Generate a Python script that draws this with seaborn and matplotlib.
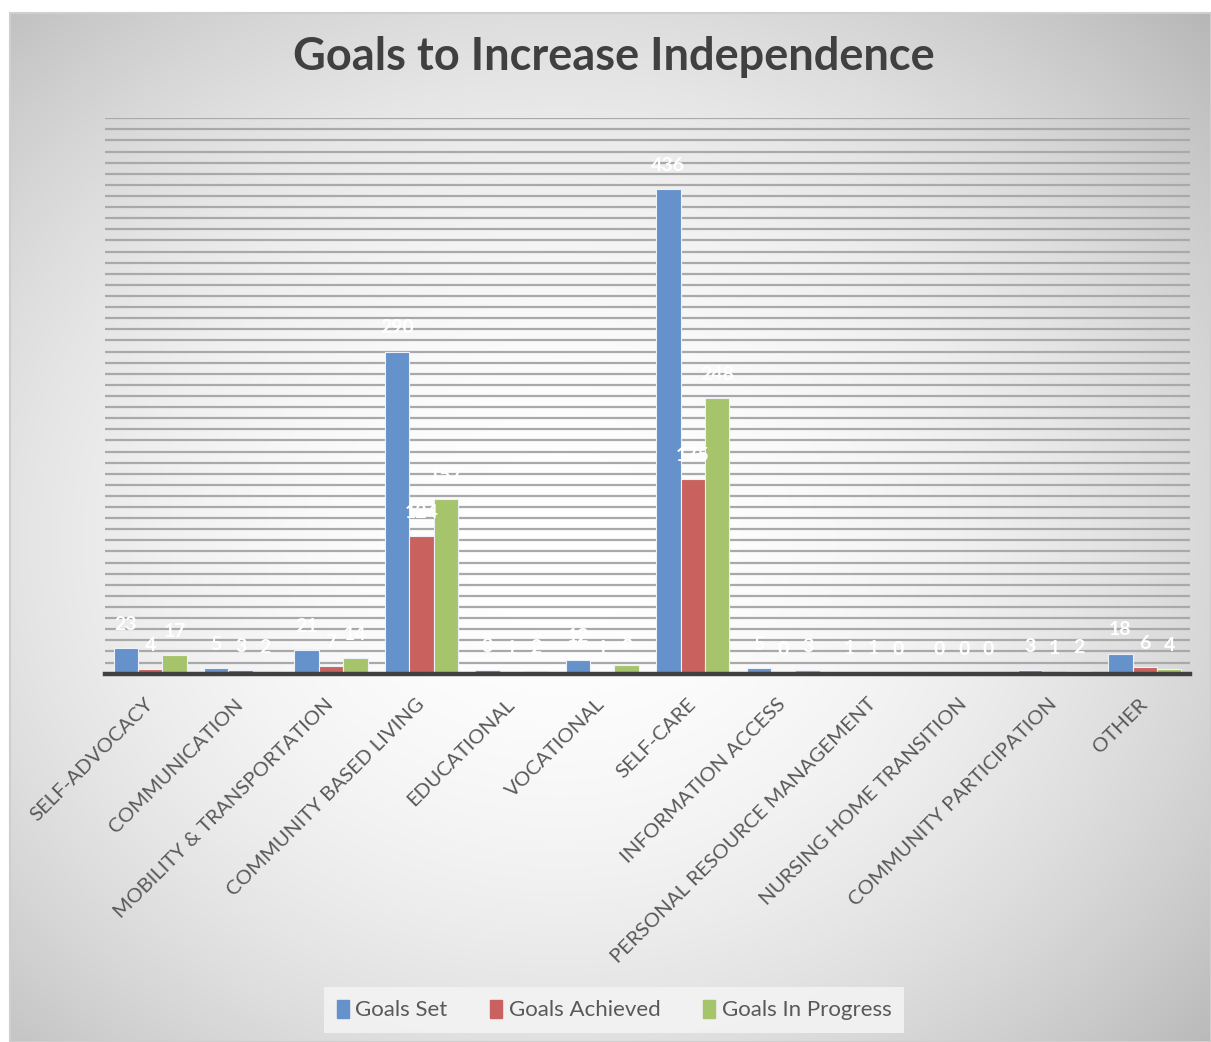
import numpy as np
import pandas as pd
import seaborn as sns
import matplotlib.pyplot as plt

categories = ['SELF-ADVOCACY', 'COMMUNICATION', 'MOBILITY & TRANSPORTATION',
              'COMMUNITY BASED LIVING', 'EDUCATIONAL', 'VOCATIONAL', 'SELF-CARE',
              'INFORMATION ACCESS', 'PERSONAL RESOURCE MANAGEMENT',
              'NURSING HOME TRANSITION', 'COMMUNITY PARTICIPATION', 'OTHER']
goals_set = [23, 5, 21, 290, 3, 12, 436, 5, 1, 0, 3, 18]
goals_achieved = [4, 3, 7, 124, 1, 1, 175, 0, 1, 0, 1, 6]
goals_in_progress = [17, 2, 14, 157, 2, 8, 248, 3, 0, 0, 2, 4]
series = ['Goals Set', 'Goals Achieved', 'Goals In Progress']
colors = ['#6592CB', '#C9625F', '#A5C46B']

df = pd.DataFrame({
    'category': categories * 3,
    'series': [series[0]] * 12 + [series[1]] * 12 + [series[2]] * 12,
    'value': goals_set + goals_achieved + goals_in_progress,
})

sns.set_style('white')
plt.rcParams['font.family'] = ['Lato', 'DejaVu Sans']

W, H = 1211, 1042
fig = plt.figure(figsize=(W / 100, H / 100), dpi=100)
fig.patch.set_facecolor('white')

# radial grey background of the chart area
bg = fig.add_axes([10 / W, 0, 1 - 10 / W, 1 - 13 / H], zorder=-5)
yy, xx = np.mgrid[13:H, 10:W]
r = np.hypot(xx - 560, (yy - 540) * 1.15) / 880
shade = np.clip(1 - 0.28 * r ** 2.0, 0, 1)
bg.imshow(np.dstack([shade] * 3), aspect='auto', extent=[0, 1, 0, 1])
bg.set_xticks([])
bg.set_yticks([])
for s in bg.spines.values():
    s.set_color('#cfcfcf')
    s.set_linewidth(1.5)

base_y, top_y = 673.7, 118.2
ax = fig.add_axes([105 / W, 1 - base_y / H, (1190 - 105) / W, (base_y - top_y) / H])
ax.patch.set_alpha(0)

sns.barplot(data=df, x='category', y='value', hue='series', hue_order=series,
            palette=colors, saturation=1, width=0.81, ax=ax,
            edgecolor='#eef2f8', linewidth=0.8, legend=True)

ax.set_xlim(-0.5, len(categories) - 0.5)
ax.set_ylim(0, 500)
ax.set_yticks(np.arange(0, 501, 10))
ax.set_yticklabels([])
ax.yaxis.grid(True, color='#a9a9a9', linewidth=1.6)
ax.set_axisbelow(True)
ax.tick_params(axis='y', length=0)
ax.tick_params(axis='x', length=0, pad=20)
for side in ['left', 'right', 'top']:
    ax.spines[side].set_visible(False)
ax.spines['bottom'].set_color('#404040')
ax.spines['bottom'].set_linewidth(3.2)
ax.set_xlabel('')
ax.set_ylabel('')
ax.set_xticks(range(len(categories)))
ax.set_xticklabels(categories, rotation=45, ha='right', va='center',
                   rotation_mode='anchor', fontsize=14.7, color='#595959')

for cont in ax.containers:
    ax.bar_label(cont, labels=[f'{int(v)}' for v in cont.datavalues],
                 padding=11, color='white', fontsize=14, fontweight='bold')

ax.get_legend().remove()
handles = [plt.Rectangle((0, 0), 1, 1, color=c) for c in colors]
leg = fig.legend(handles, series, loc='center', bbox_to_anchor=(614 / W, 1 - 1010 / H),
                 ncol=3, fontsize=16, frameon=True, facecolor='#f3f3f3',
                 edgecolor='none', framealpha=0.9, handlelength=0.55, handleheight=0.9,
                 handletextpad=0.3, columnspacing=1.9, borderpad=0.55, fancybox=False)
for t in leg.get_texts():
    t.set_color('#595959')

fig.text(614 / W, 1 - 57 / H, 'Goals to Increase Independence', ha='center', va='center',
         fontsize=32.5, fontweight='bold', color='#404040')

fig.savefig('out.png', dpi=100)
